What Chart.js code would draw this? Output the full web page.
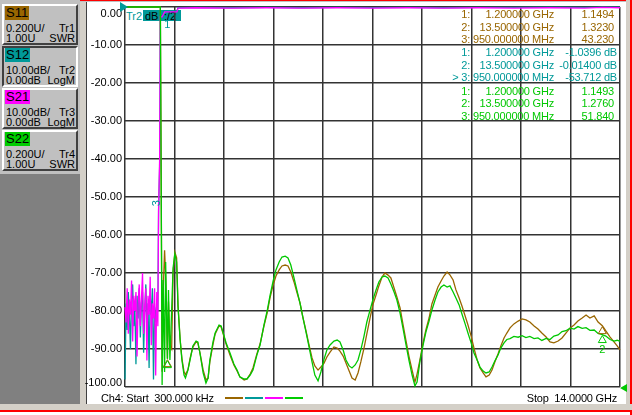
<!DOCTYPE html>
<html>
<head>
<meta charset="utf-8">
<script src="https://cdn.jsdelivr.net/npm/chart.js@4.4.1/dist/chart.umd.min.js"></script>
<style>
html, body { margin: 0; padding: 0; background: #fff; }
#wrap { position: relative; width: 632px; height: 415px; overflow: hidden;
        font-family: "Liberation Sans", Arial, sans-serif; font-size: 11px; color: #000; }
.abs { position: absolute; }
.btn { position: absolute; left: 2px; width: 72px; height: 37px; background: #c0c0c0;
       border: 2px solid; border-color: #fff #404040 #404040 #fff; }
.btn.on { border-color: #404040 #fff #fff #404040; }
.btn .tag { position: absolute; left: 1px; top: 0px; height: 14px; line-height: 14px;
            font-size: 13px; padding: 0 1px; }
.btn .l { position: absolute; left: 2px; line-height: 11px; }
.btn .r { position: absolute; right: 1px; line-height: 11px; }
.txt { position: absolute; line-height: 14px; white-space: pre; z-index: 3; letter-spacing: -0.2px; }
canvas { position: absolute; left: 0; top: 0; z-index: 2; }
</style>
</head>
<body>
<div id="wrap">
  <!-- left panel and frame -->
  <div class="abs" style="left:0;top:0;width:80px;height:404px;background:#808080"></div>
  <div class="abs" style="left:0;top:0;width:80px;height:174px;background:#c0c0c0"></div>
  <div class="abs" style="left:80px;top:0;width:6px;height:404px;background:#d4d0c8"></div>
  <div class="abs" style="left:86px;top:2px;width:1px;height:402px;background:#404040"></div>
  <div class="abs" style="left:80px;top:0;width:552px;height:1px;background:#ff0000"></div>
  <div class="abs" style="left:80px;top:1px;width:552px;height:1px;background:#c0c0c0"></div>
  <div class="abs" style="left:626px;top:0;width:4px;height:411px;background:#d4d0c8"></div>
  <div class="abs" style="left:630px;top:0;width:2px;height:415px;background:#ff0000"></div>
  <div class="abs" style="left:0;top:404px;width:632px;height:6px;background:#d4d0c8"></div>
  <div class="abs" style="left:0;top:410px;width:632px;height:2px;background:#ff0000"></div>

  <div class="btn" style="top:4px"><span class="tag" style="background:#996600">S11</span>
    <span class="l" style="top:17px">0.200U/</span><span class="r" style="top:17px">Tr1</span>
    <span class="l" style="top:27px">1.00U</span><span class="r" style="top:27px">SWR</span></div>
  <div class="btn on" style="top:46px"><span class="tag" style="background:#009999">S12</span>
    <span class="l" style="top:17px">10.00dB/</span><span class="r" style="top:17px">Tr2</span>
    <span class="l" style="top:27px">0.00dB</span><span class="r" style="top:27px">LogM</span></div>
  <div class="btn" style="top:88px"><span class="tag" style="background:#ff00ff">S21</span>
    <span class="l" style="top:17px">10.00dB/</span><span class="r" style="top:17px">Tr3</span>
    <span class="l" style="top:27px">0.00dB</span><span class="r" style="top:27px">LogM</span></div>
  <div class="btn" style="top:130px"><span class="tag" style="background:#00cc00">S22</span>
    <span class="l" style="top:17px">0.200U/</span><span class="r" style="top:17px">Tr4</span>
    <span class="l" style="top:27px">1.00U</span><span class="r" style="top:27px">SWR</span></div>

  <!-- active trace tag (under the canvas so the traces cross it) -->
  <div class="abs" style="left:126px;top:9px;line-height:14px;color:#009999;z-index:1">Tr2</div>
  <div class="abs" style="left:143px;top:10px;width:38px;height:11px;background:#009999;z-index:1"></div>
  <div class="abs" style="left:145px;top:9px;line-height:14px;z-index:1">dB</div>
  <div class="abs" style="left:164px;top:9px;line-height:14px;z-index:1">:/2</div>

  <div class="txt" style="left:101px;top:391px">Ch4: Start  300.000 kHz</div>
  <div class="txt" style="right:15px;top:391px">Stop  14.0000 GHz</div>
  <div class="abs" style="left:225px;top:397px;width:18px;height:2px;background:#996600"></div>
  <div class="abs" style="left:245px;top:397px;width:18px;height:2px;background:#009999"></div>
  <div class="abs" style="left:265px;top:397px;width:18px;height:2px;background:#ff00ff"></div>
  <div class="abs" style="left:285px;top:397px;width:18px;height:2px;background:#00cc00"></div>

  <canvas id="vna" width="632" height="415"></canvas>
</div>

<script>
// sweep 300 kHz .. 14 GHz, frequencies in GHz
const xGridGHz = [0.0003, 1.4003, 2.8002, 4.2002, 5.6002, 7.0002, 8.4001, 9.8001, 11.2001, 12.6000, 14.0];
const yTicksDb = [0, -10, -20, -30, -40, -50, -60, -70, -80, -90, -100];

// transmission traces (Tr2 S12, Tr3 S21), dB
const freqT = [
  0.0003, 0.031, 0.062, 0.093, 0.124, 0.155, 0.186, 0.217, 0.248, 0.279,
  0.31, 0.341, 0.372, 0.403, 0.434, 0.465, 0.496, 0.527, 0.558, 0.589,
  0.62, 0.651, 0.682, 0.713, 0.744, 0.775, 0.806, 0.837, 0.868, 0.899,
  0.93, 0.95, 0.98, 1.0, 1.05, 1.12, 1.2, 1.47, 1.5, 2,
  3, 4, 5, 6, 7, 8, 9, 10, 11, 12,
  13, 13.5, 14
];
const s21Db = [
  -79, -83, -74, -86, -77, -81, -72, -88, -76, -80,
  -75, -92, -78, -73, -84, -77, -70, -86, -79, -74,
  -93, -76, -81, -71, -89, -78, -82, -74, -97, -75,
  -84, -53, -40, -2.6, -2.6, -1.3, -1.3, -1.3, -0.3, -0.2,
  -0.3, -0.2, -0.3, -0.2, -0.3, -0.2, -0.3, -0.2, -0.3, -0.2,
  -0.3, -0.1, -0.2
];
const s12Db = [
  -98, -78, -85, -75, -81, -90, -77, -73, -84, -79,
  -94, -76, -82, -74, -87, -78, -75, -91, -80, -73,
  -85, -78, -95, -76, -81, -74, -98, -79, -83, -77,
  -80, -53.712, -42, -3, -2.2, -1.2, -1.0396, -1.0, -0.2, -0.1,
  -0.2, -0.1, -0.2, -0.1, -0.15, -0.1, -0.2, -0.1, -0.1, -0.05,
  -0.1, -0.014, -0.05
];

// reflection traces (Tr1 S11, Tr4 S22), SWR
const freqR = [
  0.0003, 1.00, 1.05, 1.08, 1.12, 1.15, 1.20, 1.23, 1.27, 1.32,
  1.36, 1.41, 1.46, 1.50, 1.56, 1.61, 1.67, 1.71, 1.78, 1.84,
  1.92, 2.01, 2.06, 2.12, 2.21, 2.29, 2.35, 2.40, 2.49, 2.55,
  2.66, 2.72, 2.77, 2.86, 2.97, 3.08, 3.17, 3.25, 3.37, 3.45,
  3.54, 3.62, 3.73, 3.82, 3.93, 4.02, 4.10, 4.19, 4.27, 4.36,
  4.44, 4.53, 4.61, 4.69, 4.78, 4.86, 4.95, 5.03, 5.12, 5.20,
  5.29, 5.37, 5.46, 5.54, 5.63, 5.71, 5.80, 5.91, 6.00, 6.08,
  6.17, 6.25, 6.34, 6.42, 6.51, 6.59, 6.67, 6.76, 6.84, 6.93,
  7.01, 7.10, 7.18, 7.27, 7.35, 7.44, 7.52, 7.61, 7.69, 7.78,
  7.86, 7.95, 8.03, 8.12, 8.20, 8.26, 8.34, 8.43, 8.51, 8.60,
  8.68, 8.77, 8.85, 8.94, 9.02, 9.11, 9.19, 9.28, 9.36, 9.45,
  9.53, 9.62, 9.70, 9.79, 9.87, 9.96, 10.04, 10.13, 10.21, 10.30,
  10.38, 10.46, 10.55, 10.63, 10.72, 10.80, 10.89, 11.00, 11.12, 11.23,
  11.34, 11.45, 11.57, 11.68, 11.79, 11.91, 12.02, 12.13, 12.25, 12.36,
  12.47, 12.59, 12.70, 12.81, 12.93, 13.04, 13.15, 13.27, 13.38, 13.50,
  13.60, 13.72, 13.83, 13.92, 14.00
];
const s11Swr = [
  3.0, 3.0, 1.08, 1.50, 1.72, 1.58, 1.149, 1.45, 1.22, 1.20,
  1.60, 1.71, 1.68, 1.43, 1.25, 1.15, 1.08, 1.065, 1.09, 1.15,
  1.21, 1.237, 1.232, 1.18, 1.09, 1.037, 1.047, 1.132, 1.226, 1.279,
  1.321, 1.316, 1.284, 1.226, 1.168, 1.116, 1.084, 1.053, 1.037, 1.042,
  1.068, 1.100, 1.174, 1.226, 1.321, 1.389, 1.468, 1.537, 1.584, 1.616,
  1.637, 1.642, 1.637, 1.605, 1.553, 1.500, 1.442, 1.368, 1.295, 1.226,
  1.153, 1.111, 1.089, 1.105, 1.126, 1.158, 1.184, 1.211, 1.205, 1.189,
  1.163, 1.126, 1.084, 1.047, 1.037, 1.074, 1.132, 1.205, 1.279, 1.363,
  1.432, 1.484, 1.532, 1.579, 1.600, 1.589, 1.574, 1.521, 1.474, 1.416,
  1.332, 1.242, 1.163, 1.089, 1.026, 1.068, 1.142, 1.232, 1.300, 1.363,
  1.437, 1.484, 1.526, 1.558, 1.584, 1.605, 1.590, 1.563, 1.511, 1.468,
  1.426, 1.374, 1.326, 1.268, 1.205, 1.142, 1.100, 1.074, 1.053, 1.063,
  1.089, 1.132, 1.174, 1.216, 1.258, 1.284, 1.311, 1.332, 1.347, 1.358,
  1.353, 1.342, 1.321, 1.305, 1.284, 1.263, 1.237, 1.232, 1.242, 1.258,
  1.284, 1.311, 1.326, 1.347, 1.363, 1.379, 1.363, 1.374, 1.342, 1.323,
  1.295, 1.263, 1.237, 1.216, 1.195
];
const s22Swr = [
  3.0, 3.0, 1.011, 1.563, 1.079, 1.658, 1.149, 1.511, 1.142, 1.405,
  1.626, 1.700, 1.658, 1.421, 1.247, 1.142, 1.063, 1.047, 1.089, 1.142,
  1.216, 1.242, 1.237, 1.179, 1.074, 1.021, 1.047, 1.142, 1.237, 1.284,
  1.326, 1.321, 1.289, 1.232, 1.179, 1.121, 1.089, 1.053, 1.042, 1.042,
  1.063, 1.089, 1.168, 1.221, 1.326, 1.400, 1.479, 1.558, 1.616, 1.658,
  1.684, 1.689, 1.679, 1.642, 1.574, 1.511, 1.442, 1.368, 1.289, 1.216,
  1.132, 1.063, 1.032, 1.079, 1.147, 1.195, 1.221, 1.242, 1.247, 1.237,
  1.195, 1.142, 1.111, 1.100, 1.116, 1.142, 1.195, 1.268, 1.342, 1.405,
  1.458, 1.511, 1.553, 1.579, 1.584, 1.574, 1.542, 1.500, 1.458, 1.389,
  1.311, 1.221, 1.142, 1.063, 1.005, 1.026, 1.132, 1.221, 1.289, 1.347,
  1.405, 1.458, 1.500, 1.526, 1.537, 1.526, 1.532, 1.500, 1.468, 1.432,
  1.384, 1.332, 1.284, 1.232, 1.179, 1.142, 1.105, 1.084, 1.074, 1.079,
  1.105, 1.137, 1.168, 1.205, 1.232, 1.250, 1.255, 1.266, 1.262, 1.270,
  1.260, 1.266, 1.255, 1.258, 1.245, 1.256, 1.250, 1.268, 1.274, 1.292,
  1.296, 1.310, 1.305, 1.318, 1.309, 1.312, 1.298, 1.300, 1.282, 1.276,
  1.268, 1.250, 1.242, 1.246, 1.240
];

// marker readout table (top right)
const readout = [
  { color: '#996600', right: 614, rows: [['1:', '1.200000 GHz', '1.1494'], ['2:', '13.500000 GHz', '1.3230'], ['3:', '950.000000 MHz', '43.230']] },
  { color: '#009999', right: 617, rows: [['1:', '1.200000 GHz', '-1.0396 dB'], ['2:', '13.500000 GHz', '-0.01400 dB'], ['> 3:', '950.000000 MHz', '-53.712 dB']] },
  { color: '#00c800', right: 614, rows: [['1:', '1.200000 GHz', '1.1493'], ['2:', '13.500000 GHz', '1.2760'], ['3:', '950.000000 MHz', '51.840']] }
];
const readoutY = [14, 26.5, 39, 52, 64.5, 77, 90.5, 103, 116];

const wrap = document.getElementById('wrap');
let r = 0;
readout.forEach(g => {
  g.rows.forEach(row => {
    const top = readoutY[r++] - 7;
    [[470, row[0]], [554, row[1]], [g.right, row[2]]].forEach(([xr, t]) => {
      const d = document.createElement('div');
      d.className = 'txt';
      d.style.right = (632 - xr) + 'px';
      d.style.top = top + 'px';
      d.style.color = g.color;
      d.textContent = t;
      wrap.appendChild(d);
    });
  });
});

const pts = (xs, ys) => xs.map((x, i) => ({ x: x, y: ys[i] }));

function tri(ctx, x, y, dir, color) {
  ctx.strokeStyle = color;
  ctx.lineWidth = 1;
  ctx.beginPath();
  if (dir === 'up') { ctx.moveTo(x, y); ctx.lineTo(x - 4, y + 7); ctx.lineTo(x + 4, y + 7); }
  else if (dir === 'right') { ctx.moveTo(x, y); ctx.lineTo(x - 8, y - 5); ctx.lineTo(x - 8, y + 5); }
  else { ctx.moveTo(x, y); ctx.lineTo(x + 7, y - 4); ctx.lineTo(x + 7, y + 4); }
  ctx.closePath();
  return ctx;
}

const vnaOverlay = {
  id: 'vnaOverlay',
  afterDraw(chart) {
    const { ctx, chartArea: a, scales } = chart;
    const x = scales.x, y = scales.y, ys = scales.ySwr;
    ctx.save();
    ctx.font = '11px "Liberation Sans", Arial, sans-serif';
    ctx.fillStyle = '#000';
    ctx.textAlign = 'right';
    ctx.textBaseline = 'middle';
    yTicksDb.forEach(v => {
      let py = y.getPixelForValue(v);
      if (v === 0) py += 7;
      if (v === -100) py -= 4;
      ctx.fillText(v.toFixed(2), 122, py);
    });

    // reference position arrows
    tri(ctx, a.left + 3, y.getPixelForValue(0), 'right', '#009999');
    ctx.fillStyle = '#009999'; ctx.fill();
    tri(ctx, a.right, ys.getPixelForValue(1.0) + 1, 'left', '#00c800');
    ctx.fillStyle = '#00c800'; ctx.fill();

    // trace markers
    ctx.textAlign = 'center';
    const m1 = x.getPixelForValue(1.2), m2 = x.getPixelForValue(13.5), m3 = x.getPixelForValue(0.95);
    tri(ctx, m1, ys.getPixelForValue(1.1494) + 1, 'up', '#996600').stroke();
    tri(ctx, m1, ys.getPixelForValue(1.1493) + 2, 'up', '#00c800').stroke();
    tri(ctx, m2, ys.getPixelForValue(1.3230) + 1, 'up', '#996600').stroke();
    tri(ctx, m2, ys.getPixelForValue(1.2760) + 1, 'up', '#00c800').stroke();
    ctx.fillStyle = '#00c800';
    ctx.fillText('2', m2, ys.getPixelForValue(1.2760) + 15);
    ctx.fillStyle = '#009999';
    ctx.fillText('1', m1, y.getPixelForValue(-1.0396) + 14);
    ctx.save();
    ctx.translate(m3 - 2, y.getPixelForValue(-53.712) - 8);
    ctx.rotate(-Math.PI / 2);
    ctx.fillText('3', 0, 0);
    ctx.restore();
    ctx.restore();
  }
};

const grid = { color: '#333333', lineWidth: 1.5, drawTicks: false };

new Chart(document.getElementById('vna').getContext('2d'), {
  type: 'line',
  data: {
    datasets: [
      { label: 'S22', data: pts(freqR, s22Swr), yAxisID: 'ySwr', borderColor: '#00c800', order: 0 },
      { label: 'S21', data: pts(freqT, s21Db), yAxisID: 'y', borderColor: '#ff00ff', order: 1 },
      { label: 'S11', data: pts(freqR, s11Swr), yAxisID: 'ySwr', borderColor: '#996600', order: 2 },
      { label: 'S12', data: pts(freqT, s12Db), yAxisID: 'y', borderColor: '#009999', order: 3 }
    ]
  },
  options: {
    responsive: false,
    animation: false,
    devicePixelRatio: 1,
    layout: { padding: { left: 125, right: 12, top: 7, bottom: 28 } },
    elements: {
      line: { borderWidth: 1.3, tension: 0, fill: false },
      point: { radius: 0 }
    },
    datasets: { line: { clip: 4 } },
    plugins: { legend: { display: false }, tooltip: { enabled: false } },
    scales: {
      x: {
        type: 'linear', min: 0.0003, max: 14,
        ticks: { display: false },
        grid: grid,
        border: { display: false },
        afterBuildTicks: s => { s.ticks = xGridGHz.map(v => ({ value: v })); },
        afterFit: s => { s.height = 0; }
      },
      y: {
        min: -100, max: 0,
        ticks: { display: false, stepSize: 10 },
        grid: grid,
        border: { display: false },
        afterFit: s => { s.width = 0; }
      },
      ySwr: { min: 1, max: 3, display: false }
    }
  },
  plugins: [vnaOverlay]
});
</script>
</body>
</html>
